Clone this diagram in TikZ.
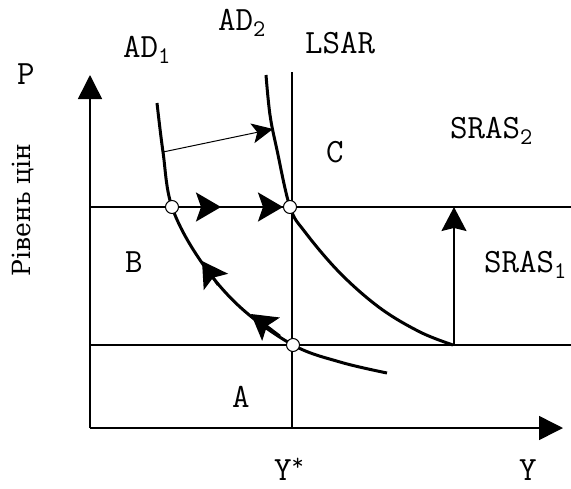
\documentclass[tikz,border=0pt]{standalone}
\usepackage{fontspec}
\newfontfamily\cyrfont{DejaVu Serif}
\usetikzlibrary{positioning, arrows.meta}

\begin{document}
\begin{tikzpicture}[x=1pt, y=-1pt,
        every node/.style={font=\ttfamily\fontsize{34}{34}\selectfont, inner sep=0pt},
        axisline/.style={line width=1.5pt, -{Triangle[length=24pt, width=24pt]}},
        levelline/.style={line width=1.5pt},
        adcurve/.style={line width=3pt},
        eqpt/.style={circle, draw, fill=white, line width=1pt, minimum size=13pt},
        adjarrow/.style={line width=2.5pt, -{Stealth[length=25pt, width=29pt, inset=5pt]}},
        risearrow/.style={line width=1.5pt, -{Stealth[length=24pt, width=25pt, inset=3pt]}},
        pusharrow/.style={line width=1pt, -{Stealth[length=21pt, width=20pt, inset=5pt]}}
    ]
%
    \useasboundingbox (0,0) rectangle (571,488);
%
    % Axes
    \coordinate (orig) at (90,428);
    \coordinate (ptop) at (90,75);
    \coordinate (yend) at (563,428);
    \draw[axisline] (orig) -- (ptop);
    \draw[axisline] (orig) -- (yend);
%
    % Supply lines
    \coordinate (lsartop) at (292,72);
    \coordinate (lsarbot) at (292,428);
    \draw[levelline] (lsartop) -- (lsarbot);
    \foreach \lvl/\yy in {one/345, two/207} {
        \coordinate (sras\lvl l) at (90,\yy);
        \coordinate (sras\lvl r) at (571,\yy);
        \draw[levelline] (sras\lvl l) -- (sras\lvl r);
    }
%
    % Demand curves
    \draw[adcurve] plot[smooth, tension=0.6] coordinates {(157,103) (163,152) (172,207) (200,260) (240,307) (293,345) (340,362) (387,373)};
    \draw[adcurve] plot[smooth, tension=0.6] coordinates {(266,75) (270,115) (277,150) (290,207) (305,232) (340,273) (380,308) (420,332) (453,345)};
%
    % Equilibria
    \node[eqpt] (eqa) at (293,345) {};
    \node[eqpt] (eqb) at (172,207) {};
    \node[eqpt] (eqc) at (290,207) {};
%
    % Adjustment arrows
    \coordinate (midbc) at (221,207);
    \draw[adjarrow] (eqb) -- (midbc);
    \draw[adjarrow] (midbc) -- (eqc);
    \coordinate (up1s) at (218,285);
    \coordinate (up1) at (202,261);
    \coordinate (up2s) at (280,336);
    \coordinate (up2) at (251,314);
    \draw[adjarrow] (up1s) -- (up1);
    \draw[adjarrow] (up2s) -- (up2);
%
    \coordinate (ad1p) at (163,152);
    \coordinate (ad2p) at (273,129);
    \draw[pusharrow] (ad1p) -- (ad2p);
%
    \coordinate (risebot) at (454,345);
    \coordinate (risetop) at (454,207);
    \draw[risearrow] (risebot) -- (risetop);
%
    % Labels
    \node (plabel) at (26,74) {P};
    \node[rotate=90, font=\cyrfont\fontsize{25}{25}\selectfont] (pricelabel) at (23,210) {Рівень цін};
    \node[anchor=base west] (ad1lab) at (123,57) {AD\textsubscript{1}};
    \node[anchor=base west] (ad2lab) at (218,30) {AD\textsubscript{2}};
    \node[anchor=base west] (lsarlab) at (305,53) {LSAR};
    \node[anchor=base west] (sras2lab) at (450,138) {SRAS\textsubscript{2}};
    \node[anchor=base west] (sras1lab) at (484,272) {SRAS\textsubscript{1}};
    \node[anchor=base west] (clab) at (326,162) {C};
    \node[anchor=base west] (blab) at (125,272) {B};
    \node[anchor=base west] (alab) at (232,407) {A};
    \node[anchor=base west] (ystarlab) at (274,480) {Y\textsuperscript{*}};
    \node[anchor=base west] (ylab) at (519,480) {Y};
%
\end{tikzpicture}
\end{document}
